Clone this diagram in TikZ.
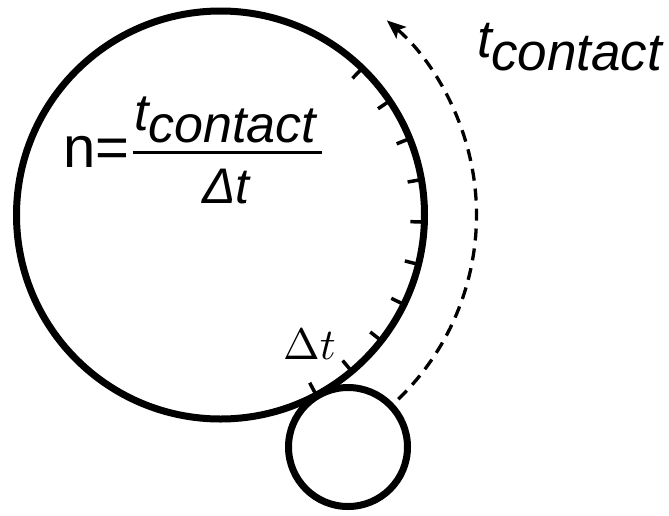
\documentclass[tikz,border=0pt]{standalone}
\usepackage{fontspec}
\setmainfont{Liberation Sans}
\usetikzlibrary{arrows.meta,calc}
\tikzset{
  thick circle/.style={line width=7pt},
  tickmark/.style={line width=3.5pt},
  txt/.style={inner sep=0pt, anchor=base west},
  dasharc/.style={line width=3.3pt, dash pattern=on 12pt off 8pt, -{Stealth[length=19pt,width=15pt,inset=4pt]}}
}
\begin{document}
\begin{tikzpicture}[x=1pt,y=-1pt]
\useasboundingbox (0,0) rectangle (669,515);
% big circle
\coordinate (C) at (220.5,215);
\draw[thick circle] (C) circle[radius=204];
% ticks (y axis points down, so negative angles are above)
\foreach \a in {-46,-34,...,62}{
  \draw[tickmark] ($(C)+(\a:204)$) -- ($(C)+(\a:190)$);
}
% small circle
\node[draw, circle, line width=7pt, minimum size=119pt, inner sep=0pt] (S) at (348,447) {};
% dashed arc
\coordinate (A0) at ($(C)+(46:256)$);
\draw[dasharc] (A0) arc[start angle=46, end angle=-49.5, radius=256];
% labels
\node[txt, font=\fontsize{53}{53}\selectfont\itshape] (tl) at (477,57) {t};
\node[txt, font=\fontsize{53}{53}\selectfont\itshape] (cl) at (491,70) {contact};
\node[txt, font=\fontsize{58}{58}\selectfont] (n) at (63,167) {n=};
\draw[line width=3pt] (133,152) -- (322,152);
\node[txt, font=\fontsize{52}{52}\selectfont\itshape] (tn) at (134,130) {t};
\node[txt, font=\fontsize{52}{52}\selectfont\itshape] (cn) at (148,142) {contact};
\node[txt, font=\fontsize{50}{50}\selectfont\itshape] (dt) at (202,203) {Δt};
\node[txt] (dl) at (283,359) {\scalebox{4.4}{$\Delta t$}};
\end{tikzpicture}
\end{document}
